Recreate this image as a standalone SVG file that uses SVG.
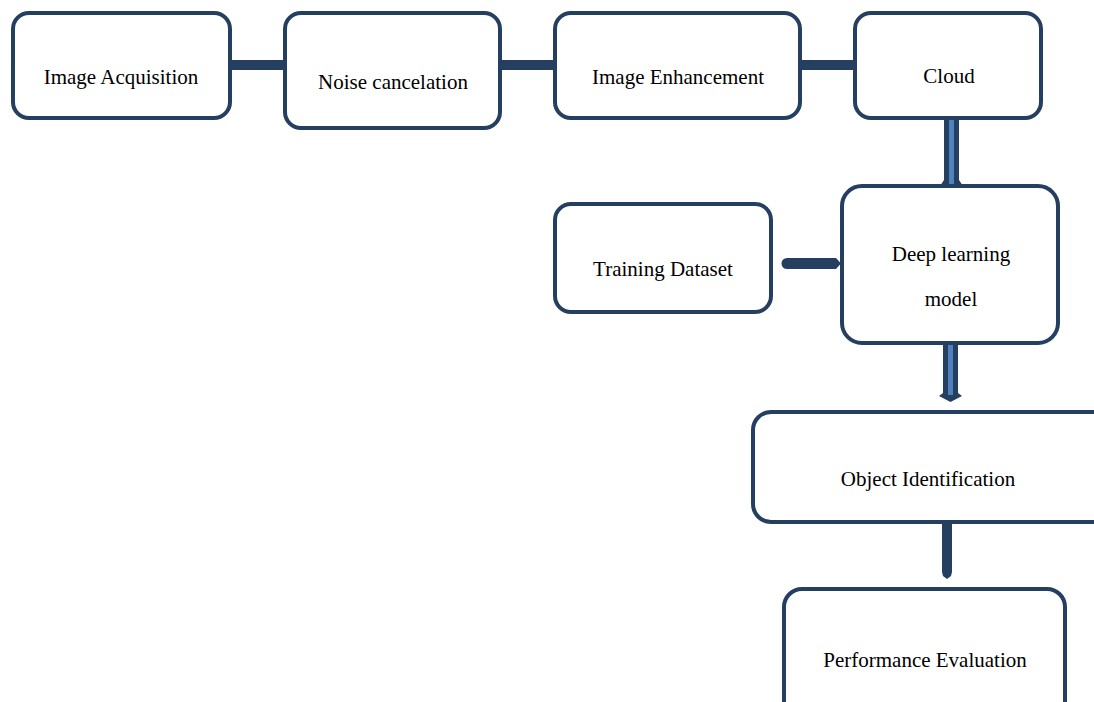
<svg xmlns="http://www.w3.org/2000/svg" width="1094" height="702" viewBox="0 0 1094 702">
<style>
.box{fill:#fff;stroke:#243f60;stroke-width:4}
.t{font-family:"Liberation Serif","Times New Roman",serif;font-size:21px;fill:#000;text-anchor:middle}
.bar{fill:#243f60}
.stripe{fill:#4f81bd}
</style>
<rect width="1094" height="702" fill="#fff"/>
<g id="connectors">
<rect class="bar" x="230" y="60" width="56" height="10"/>
<rect class="bar" x="500" y="60" width="56" height="10"/>
<rect class="bar" x="800" y="60" width="56" height="10"/>
<path class="bar" d="M944 118 H959 V180 L963 186 H940 L944 180 Z"/>
<rect class="stripe" x="949" y="120" width="5" height="64"/>
<path class="bar" d="M787 258 H836 L841 263.5 L836 269 H787 A5.5 5.5 0 0 1 787 258 Z"/>
<path class="bar" d="M943 343 H958 V393 L962 396 L950.5 402 L939 396 L943 393 Z"/>
<rect class="stripe" x="948" y="345" width="5" height="50"/>
<path class="bar" d="M942 522 H952 V572 L951 576 L947 579 L943 576 L942 572 Z"/>
</g>
<g id="n1"><rect class="box" x="13" y="13" width="217" height="105" rx="16"/><text class="t" x="121" y="84">Image Acquisition</text></g>
<g id="n2"><rect class="box" x="285" y="13" width="215" height="115" rx="16"/><text class="t" x="393" y="89">Noise cancelation</text></g>
<g id="n3"><rect class="box" x="555" y="13" width="245" height="105" rx="16"/><text class="t" x="678" y="84">Image Enhancement</text></g>
<g id="n4"><rect class="box" x="855" y="13" width="186" height="105" rx="16"/><text class="t" x="949" y="83">Cloud</text></g>
<g id="n5"><rect class="box" x="842" y="186" width="216" height="157" rx="20"/><text class="t" x="951" y="261">Deep learning</text><text class="t" x="951" y="306">model</text></g>
<g id="n6"><rect class="box" x="555" y="204" width="216" height="108" rx="16"/><text class="t" x="663" y="276">Training Dataset</text></g>
<g id="n7"><rect class="box" x="753" y="412" width="360" height="110" rx="18"/><text class="t" x="928" y="486">Object Identification</text></g>
<g id="n8"><rect class="box" x="784" y="589" width="281" height="140" rx="18"/><text class="t" x="925" y="667">Performance Evaluation</text></g>
</svg>
